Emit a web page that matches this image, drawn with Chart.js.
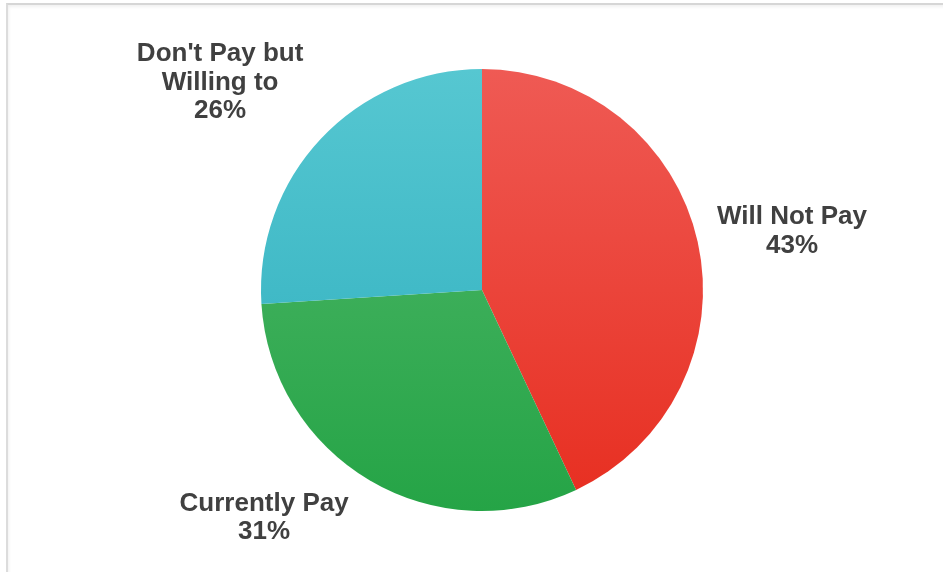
<!DOCTYPE html>
<html>
<head>
<meta charset="utf-8">
<script src="https://cdn.jsdelivr.net/npm/chart.js@4"></script>
<style>
  html, body { margin: 0; padding: 0; background: #fff; }
  #wrap { position: relative; width: 943px; height: 572px; overflow: hidden; }
  #frame {
    position: absolute; left: 6px; top: 3px; width: 2000px; height: 2000px;
    border-top: 2px solid #d6d6d6; border-left: 2px solid #dcdcdc;
    box-shadow: inset 1px 2px 3px rgba(0,0,0,0.06);
  }
  #grafico { position: absolute; left: 0; top: 0; }
</style>
</head>
<body>
<div id="wrap">
  <div id="frame"></div>
  <canvas id="grafico" width="943" height="572"></canvas>
</div>
<script>
// datos
const categorias = ["Will Not Pay", "Currently Pay", ["Don't Pay but", "Willing to"]];
const valores = [43, 31, 26];
const coloresArriba = ["#ef5a54", "#52b86c", "#56c7d1"];
const coloresAbajo = ["#e72e20", "#25a446", "#2cadbd"];

// ajuste de etiquetas (grados respecto al centro del sector, factor de radio)
const giroEtiqueta = [1.9, 13.1, -4.8];
const distEtiqueta = [1.4275, 1.427, 1.512];

const grafico = document.getElementById("grafico");

function gradiente(context) {
    const chart = context.chart;
    const area = chart.chartArea;
    if (!area) return coloresArriba[context.dataIndex];
    const g = chart.ctx.createLinearGradient(0, area.top, 0, area.bottom);
    g.addColorStop(0, coloresArriba[context.dataIndex]);
    g.addColorStop(1, coloresAbajo[context.dataIndex]);
    return g;
}

const etiquetas = {
    id: "etiquetas",
    afterDatasetsDraw(chart) {
        const ctx = chart.ctx;
        const meta = chart.getDatasetMeta(0);
        ctx.save();
        ctx.font = "bold 26px 'Liberation Sans', Arial, sans-serif";
        ctx.fillStyle = "#404040";
        ctx.textAlign = "center";
        ctx.textBaseline = "middle";
        meta.data.forEach((arc, i) => {
            const p = arc.getProps(["x", "y", "startAngle", "endAngle", "outerRadius"], true);
            const medio = (p.startAngle + p.endAngle) / 2 + giroEtiqueta[i] * Math.PI / 180;
            const cx = p.x + Math.cos(medio) * p.outerRadius * distEtiqueta[i];
            const cy = p.y + Math.sin(medio) * p.outerRadius * distEtiqueta[i];
            let lineas = [].concat(chart.data.labels[i]);
            lineas = lineas.concat([valores[i] + "%"]);
            const alto = 28.5;
            const y0 = cy - (lineas.length - 1) * alto / 2;
            lineas.forEach((txt, k) => {
                ctx.fillText(txt, cx, y0 + k * alto);
            });
        });
        ctx.restore();
    }
};

const config = {
    type: "pie",
    data: {
        labels: categorias,
        datasets: [
            {
                data: valores,
                backgroundColor: gradiente,
                borderWidth: 0
            }
        ]
    },
    options: {
        responsive: false,
        animation: false,
        layout: { padding: { top: 69, bottom: 61, left: 261, right: 240 } },
        plugins: {
            legend: { display: false },
            tooltip: { enabled: false }
        }
    },
    plugins: [etiquetas]
};

new Chart(grafico, config);
</script>
</body>
</html>
